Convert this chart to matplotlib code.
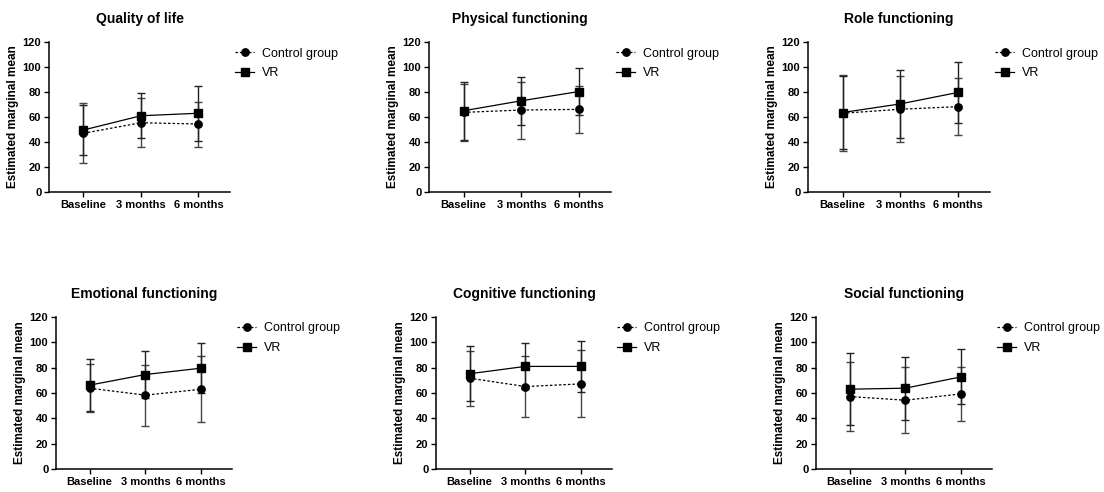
import matplotlib
matplotlib.use("Agg")
import matplotlib.pyplot as plt

plt.rcParams['font.family'] = ['Liberation Sans', 'DejaVu Sans']

timepoints = ["Baseline", "3 months", "6 months"]
series_names = ["Control group", "VR"]

titles = ["Quality of life", "Physical functioning", "Role functioning",
          "Emotional functioning", "Cognitive functioning", "Social functioning"]

# estimated marginal means (control, VR) and SD for each outcome
qol_control = [47, 55.4, 54.4]
qol_control_sd = [24, 19.5, 18]
qol_vr = [49.6, 61, 63]
qol_vr_sd = [20, 18, 22]

phys_control = [63.7, 65.6, 66.1]
phys_control_sd = [23, 22.8, 19]
phys_vr = [65, 73, 80.4]
phys_vr_sd = [23, 19.3, 18.9]

role_control = [63, 66.2, 68.3]
role_control_sd = [30.5, 26.5, 22.7]
role_vr = [63.6, 70.5, 79.7]
role_vr_sd = [29.4, 27.4, 24.5]

emo_control = [63.8, 58.3, 63]
emo_control_sd = [19, 24, 26]
emo_vr = [66.2, 74.6, 79.6]
emo_vr_sd = [20.8, 18.8, 19.6]

cog_control = [71.7, 65.1, 67.2]
cog_control_sd = [21.7, 24.2, 26.5]
cog_vr = [75.2, 81, 81]
cog_vr_sd = [21.8, 18.2, 20.4]

soc_control = [57.2, 54.3, 59.3]
soc_control_sd = [27, 26, 21.5]
soc_vr = [63, 63.8, 72.8]
soc_vr_sd = [28.2, 25, 21.8]

panels = [
    (qol_control, qol_control_sd, qol_vr, qol_vr_sd),
    (phys_control, phys_control_sd, phys_vr, phys_vr_sd),
    (role_control, role_control_sd, role_vr, role_vr_sd),
    (emo_control, emo_control_sd, emo_vr, emo_vr_sd),
    (cog_control, cog_control_sd, cog_vr, cog_vr_sd),
    (soc_control, soc_control_sd, soc_vr, soc_vr_sd),
]

W, H = 1104, 492
fig = plt.figure(figsize=(W / 100, H / 100), dpi=100)

# axes boxes in pixels: left, top, width, height
boxes = [
    (49, 42, 181, 150), (429, 42, 182, 150), (808, 42, 182, 150),
    (56, 317, 176, 152), (436, 317, 176, 152), (816, 317, 176, 152),
]

x = list(range(len(timepoints)))

for (left, top, w, h), title, (c, csd, v, vsd) in zip(boxes, titles, panels):
    ax = fig.add_axes([left / W, 1 - (top + h) / H, w / W, h / H])
    eb_c = ax.errorbar(x, c, yerr=csd, color='black', ecolor='#444444', elinewidth=1.0,
                       capsize=2.6, capthick=1.0, marker='o', markersize=5.3,
                       linestyle=(0, (2, 1.6)), linewidth=0.9, zorder=3)
    eb_v = ax.errorbar(x, v, yerr=vsd, color='black', ecolor='#222222', elinewidth=1.0,
                       capsize=2.6, capthick=1.0, marker='s', markersize=5.3,
                       linestyle='-', linewidth=0.9, zorder=3)
    ax.set_xlim(-0.6, 2.55)
    ax.set_ylim(0, 120)
    ax.set_yticks(range(0, 121, 20))
    ax.set_xticks(x)
    ax.set_xticklabels(timepoints, fontsize=8, fontweight='bold')
    for lbl in ax.get_yticklabels():
        lbl.set_fontsize(8)
        lbl.set_fontweight('bold')
    ax.set_ylabel("Estimated marginal mean", fontsize=8.5, fontweight='bold', labelpad=3)
    ax.set_title(title, fontsize=10, fontweight='bold', pad=14)
    for s in ('top', 'right'):
        ax.spines[s].set_visible(False)
    for s in ('left', 'bottom'):
        ax.spines[s].set_linewidth(1.1)
    ax.tick_params(direction='out', length=3.5, width=1.0, pad=2)
    ax.legend([eb_c[0], eb_v[0]], series_names, loc='upper left',
              bbox_to_anchor=(1.03, 1.0 - 5.5 / h), frameon=False,
              fontsize=9, handlelength=1.5, handletextpad=0.6, labelspacing=0.6,
              borderaxespad=0, borderpad=0)

fig.savefig("out.png", dpi=100, facecolor='white')
